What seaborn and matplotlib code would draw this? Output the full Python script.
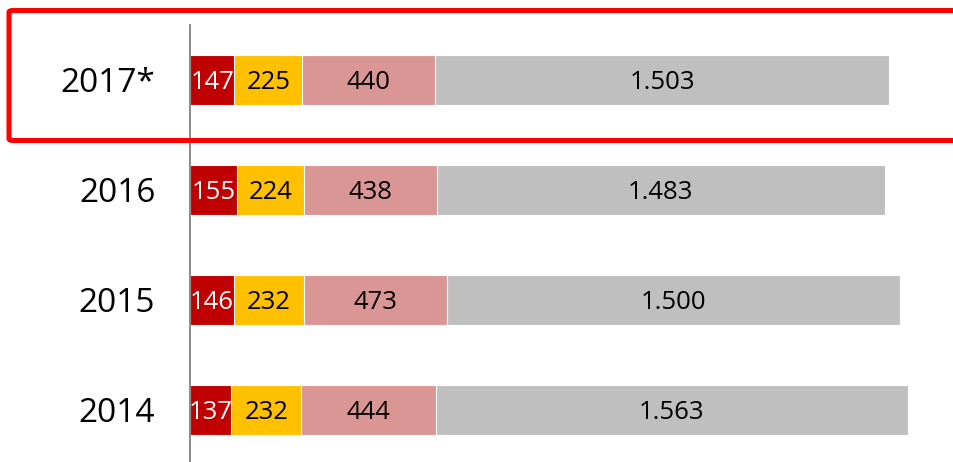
import matplotlib
matplotlib.use("Agg")
import matplotlib.pyplot as plt
import seaborn as sns
import pandas as pd
import numpy as np
from matplotlib.patches import FancyBboxPatch

years = ["2017*", "2016", "2015", "2014"]
seg1 = [147, 155, 146, 137]
seg2 = [225, 224, 232, 232]
seg3 = [440, 438, 473, 444]
seg4 = [1503, 1483, 1500, 1563]
colors = ["#C00000", "#FFC000", "#DA9694", "#BFBFBF"]
label_colors = ["white", "black", "black", "black"]

sns.set_theme(style="white")
plt.rcParams["font.family"] = ["Open Sans", "DejaVu Sans"]

segments = [seg1, seg2, seg3, seg4]
cums = np.cumsum(np.array(segments), axis=0)

fig = plt.figure(figsize=(9.54, 4.62), dpi=100)
ax = fig.add_axes([190 / 954, -3 / 462, 755 / 954, 440 / 462])

# draw cumulative bars from longest to shortest so segments stack
for i in range(len(segments) - 1, -1, -1):
    df = pd.DataFrame({"year": years, "value": cums[i]})
    sns.barplot(data=df, x="value", y="year", orient="h", color=colors[i],
                width=0.455, edgecolor="white", linewidth=0.8, saturation=1,
                ax=ax, order=years)

for i, seg in enumerate(segments):
    for j, v in enumerate(seg):
        start = cums[i][j] - v
        ax.text(start + v / 2, j + 0.02, f"{v:,}".replace(",", "."), ha="center",
                va="center", fontsize=18.5, color=label_colors[i])

ax.set_xlim(0, 2500)
ax.set_ylim(3.5, -0.5)
ax.set_xlabel("")
ax.set_ylabel("")
ax.set_xticks([])
ax.tick_params(axis="y", length=0, pad=25, labelsize=24, labelcolor="black")
for s in ["top", "right", "bottom"]:
    ax.spines[s].set_visible(False)
ax.spines["left"].set_color("#808080")
ax.spines["left"].set_linewidth(1.3)

rect = FancyBboxPatch((9 / 954, 1 - 140.5 / 462), 960 / 954, 130 / 462,
                      boxstyle="round,pad=0,rounding_size=0.004",
                      transform=fig.transFigure, fill=False,
                      edgecolor="#FF0000", linewidth=3.6, clip_on=False)
fig.patches.append(rect)

fig.savefig("out.png", dpi=100)
